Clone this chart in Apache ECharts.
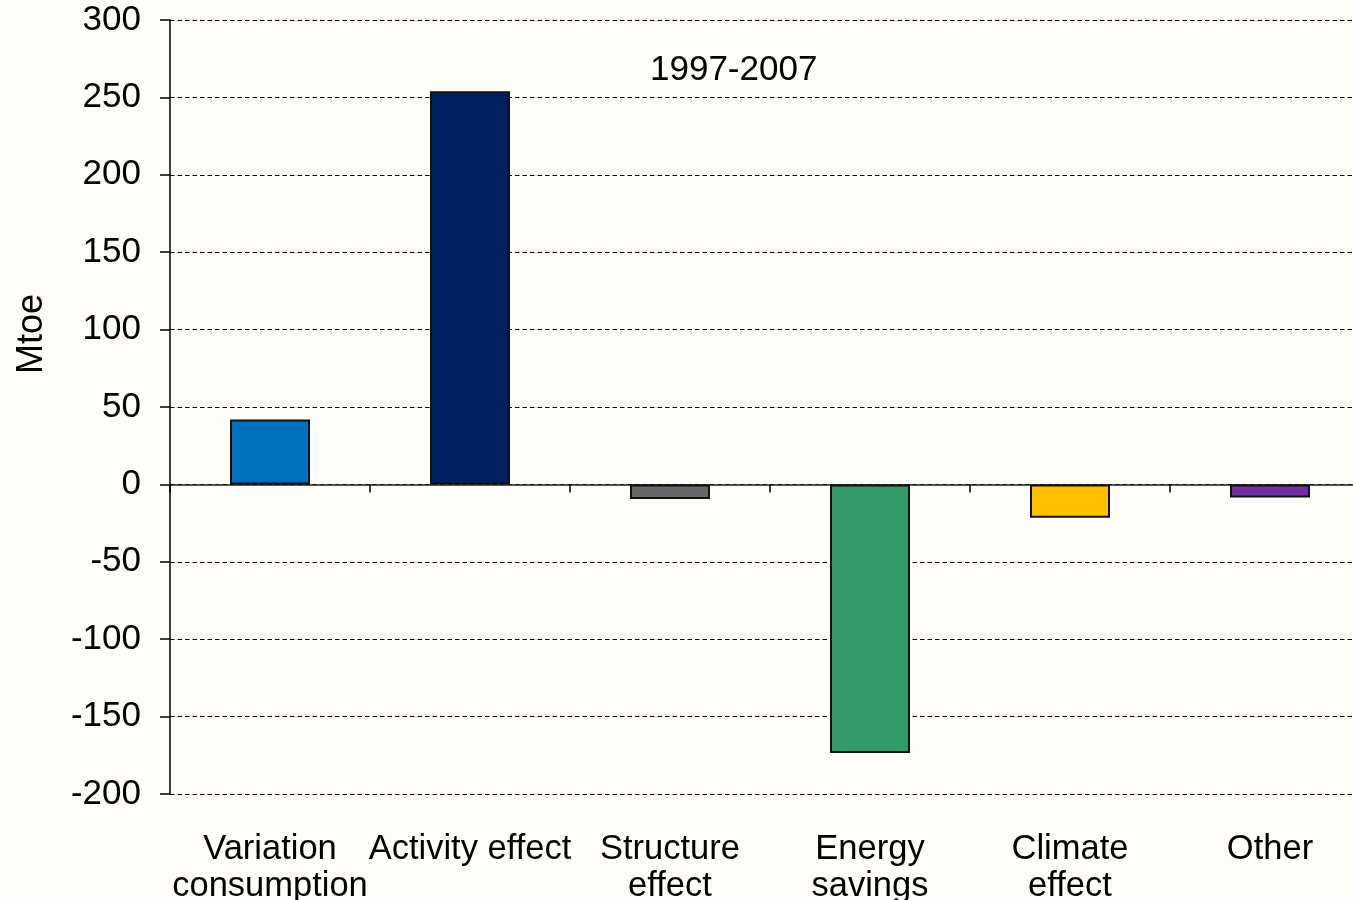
<!DOCTYPE html>
<html>
<head>
<meta charset="utf-8">
<script src="https://cdn.jsdelivr.net/npm/echarts@6/dist/echarts.min.js"></script>
<style>
  html, body { margin: 0; padding: 0; background: #fffdf8; }
  #chart { width: 1353px; height: 900px; }
</style>
</head>
<body>
<div id="chart"></div>
<script>
const categories = ["Variation\nconsumption", "Activity effect", "Structure\neffect", "Energy\nsavings", "Climate\neffect", "Other"];
const values = [42, 254, -9.5, -173.5, -21.5, -8.5];
const barColors = ["#0070c0", "#002060", "#666666", "#339966", "#ffc000", "#7030a0"];
const periodLabel = "1997-2007";
const unitLabel = "Mtoe";

const font = "Liberation Sans, Arial, sans-serif";
const chart = echarts.init(document.getElementById("chart"));

let option = {
  backgroundColor: "#fffdf8",
  animation: false,
  grid: { left: 170, top: 20, width: 1200, height: 774, outerBoundsMode: "none", containLabel: false },
  graphic: [
    {
      type: "text",
      left: 650,
      top: 53,
      style: { text: periodLabel, font: "35px " + font, fill: "#000" }
    },
    {
      type: "text",
      x: 14,
      y: 334,
      rotation: Math.PI / 2,
      style: { text: unitLabel, font: "36px " + font, fill: "#000", align: "center", verticalAlign: "top" }
    }
  ],
  xAxis: [
    {
      type: "category",
      data: categories,
      axisLine: { onZero: true, lineStyle: { color: "#222", width: 1.5 } },
      axisTick: { show: true, length: 8, lineStyle: { color: "#000", width: 1.5 } },
      axisLabel: { show: false },
      splitLine: { show: false }
    },
    {
      type: "category",
      data: categories,
      position: "bottom",
      axisLine: { show: false, onZero: false },
      axisTick: { show: false },
      axisLabel: {
        margin: 37,
        color: "#000",
        fontFamily: font,
        fontSize: 34.5,
        lineHeight: 37,
        interval: 0
      }
    }
  ],
  yAxis: {
    type: "value",
    min: -200,
    max: 300,
    interval: 50,
    axisLine: { show: true, lineStyle: { color: "#000", width: 1.5 } },
    axisTick: { show: true, length: 10, lineStyle: { color: "#000", width: 1.5 } },
    axisLabel: { margin: 29, color: "#000", fontFamily: font, fontSize: 35 },
    splitLine: { show: true, lineStyle: { color: "#000", type: [4.5, 3], width: 1 } }
  },
  series: [
    {
      type: "bar",
      xAxisIndex: 0,
      barWidth: 80,
      data: values.map((v, i) => ({
        value: v,
        itemStyle: { color: barColors[i] }
      })),
      itemStyle: { borderColor: "#111", borderWidth: 2 }
    }
  ]
};

chart.setOption(option);
</script>
</body>
</html>
